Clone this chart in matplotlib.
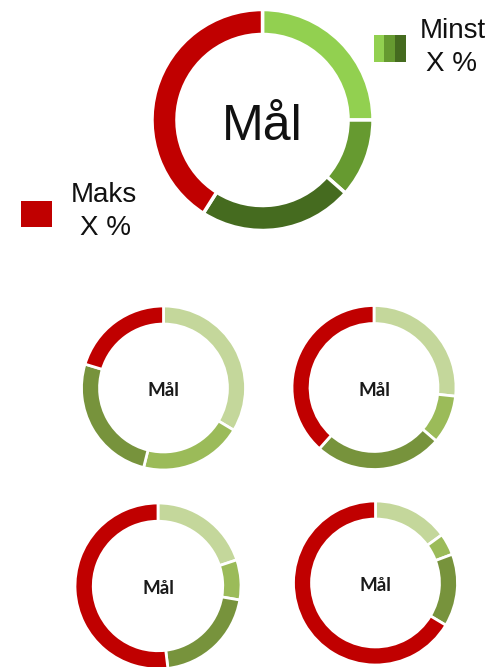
import matplotlib.pyplot as plt

# andeler (prosent), med klokka fra toppen: lys, middels, mørk grønn, rød
big_values = [25, 11.5, 22.5, 41]
small_values = [
    [33.6, 20.3, 25.8, 20.3],
    [26.7, 9.6, 25.3, 38.4],
    [19.9, 7.8, 20.4, 51.9],
    [15.0, 4.3, 14.3, 66.4],
]
center_label = 'Mål'
legend_min = ['Minst', 'X %']
legend_max = ['Maks', 'X %']

big_colors = ['#92D050', '#669A30', '#456B1F', '#C00000']
small_colors = ['#C4D79B', '#9BBB59', '#77933C', '#C00000']

W, H = 495, 667
fig = plt.figure(figsize=(W / 100, H / 100), dpi=100)


def donut(cx, cy, r, values, colors, width, lw, label, fs, bold, base):
    ax = fig.add_axes([(cx - r) / W, 1 - (cy + r) / H, 2 * r / W, 2 * r / H])
    ax.pie(values, colors=colors, startangle=90, counterclock=False,
           wedgeprops=dict(width=width, edgecolor='white', linewidth=lw))
    ax.set_xlim(-1, 1)
    ax.set_ylim(-1, 1)
    ax.set_aspect('equal')
    ax.axis('off')
    # base = grunnlinje i piksler under sentrum
    if bold:
        ax.text(0, -base / r, label, ha='center', va='baseline', fontsize=fs,
                family='Lato', fontweight='bold', color='#1a1a1a')
    else:
        ax.text(0, -base / r, label, ha='center', va='baseline', fontsize=fs,
                family='Liberation Sans', color='#111111')


# stor smultring
donut(262.5, 120, 110.5, big_values, big_colors, 0.226, 2.5, center_label, 36, False, 20)

# små smultringer
small_pos = [(163.5, 388, 82), (374, 387.5, 82), (158, 586, 83), (375.5, 583, 82)]
for (cx, cy, r), vals in zip(small_pos, small_values):
    donut(cx, cy, r, vals, small_colors, 0.22, 2, center_label, 13.5, True, 8)

# tegnforklaring
lax = fig.add_axes([0, 0, 1, 1])
lax.set_xlim(0, W)
lax.set_ylim(H, 0)
lax.axis('off')
lax.patch.set_alpha(0)

for x0, c in zip([374, 384, 395], big_colors[:3]):
    lax.add_patch(plt.Rectangle((x0, 35), 10.5, 27, color=c, lw=0))
lax.text(453, 31, legend_min[0], ha='center', va='center', fontsize=20,
         family='Liberation Sans', color='#111111')
lax.text(452, 64, legend_min[1], ha='center', va='center', fontsize=20,
         family='Liberation Sans', color='#111111')

lax.add_patch(plt.Rectangle((21, 201), 31, 26, color=big_colors[3], lw=0))
lax.text(104, 195, legend_max[0], ha='center', va='center', fontsize=20,
         family='Liberation Sans', color='#111111')
lax.text(106, 228, legend_max[1], ha='center', va='center', fontsize=20,
         family='Liberation Sans', color='#111111')

fig.savefig('out.png', dpi=100)
